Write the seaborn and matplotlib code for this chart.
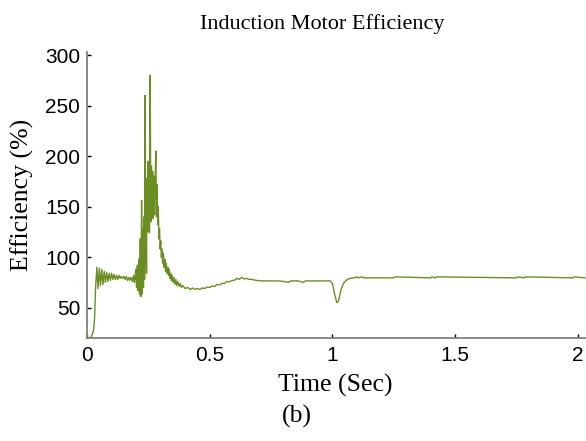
import numpy as np
import pandas as pd
import seaborn as sns
from matplotlib import pyplot as plt

# efficiency trace (time in s, efficiency in %)
time_s = [
    0.000, 0.015, 0.022, 0.027, 0.031, 0.035, 0.038,
    0.040, 0.045, 0.050, 0.055, 0.060, 0.065, 0.070, 0.075, 0.080, 0.085,
    0.090, 0.095, 0.100, 0.105, 0.110, 0.115, 0.120, 0.125, 0.130, 0.135,
    0.140, 0.145, 0.150, 0.155, 0.160, 0.165, 0.170, 0.175, 0.180, 0.185,
    0.190, 0.193,
    0.196, 0.199, 0.202, 0.205, 0.208, 0.211, 0.214, 0.217, 0.2195, 0.2225,
    0.225, 0.2275, 0.230, 0.2325, 0.2345, 0.2365, 0.2385, 0.2405, 0.2425,
    0.2445, 0.2465, 0.2485, 0.2505, 0.2525, 0.2545, 0.2575, 0.260, 0.2625,
    0.265, 0.2675, 0.270, 0.2725, 0.275, 0.2775, 0.2805, 0.283, 0.2855,
    0.288, 0.2905, 0.293, 0.2955, 0.298, 0.3005, 0.303, 0.3055, 0.308,
    0.311, 0.314, 0.317, 0.320, 0.323, 0.326, 0.329, 0.332, 0.335, 0.338,
    0.341, 0.344, 0.347, 0.350, 0.354, 0.358, 0.362, 0.366, 0.370, 0.375,
    0.380, 0.385, 0.390, 0.400, 0.410, 0.420, 0.430, 0.440, 0.450, 0.460,
    0.470, 0.480, 0.490, 0.500, 0.510, 0.520, 0.530, 0.540, 0.550, 0.560,
    0.570, 0.580, 0.590, 0.600, 0.610, 0.620, 0.630, 0.640, 0.650, 0.660,
    0.670, 0.690, 0.710, 0.740, 0.780, 0.800, 0.820, 0.830, 0.860, 0.880,
    0.890, 0.990, 1.000, 1.010, 1.018, 1.025, 1.035, 1.045, 1.055, 1.070,
    1.090, 1.100, 1.105, 1.120, 1.130, 1.250, 1.255, 1.400, 1.405, 1.420,
    1.425, 1.750, 1.755, 1.780, 1.785, 1.980, 1.985, 2.030,
]
efficiency = [
    20, 20, 24, 28, 40, 70, 82,
    90, 69, 89, 72, 88, 73, 86, 75, 85, 76,
    84, 77, 84, 78, 83, 78, 82, 78, 82, 79,
    81, 79, 81, 78, 81, 77, 80, 77, 80, 76,
    82, 75,
    80, 88, 70, 92, 67, 98, 63, 118, 61, 156,
    64, 128, 70, 140, 78, 260, 90, 150, 84,
    178, 125, 195, 128, 188, 124, 280, 135, 190,
    140, 185, 138, 180, 142, 175, 205, 140, 172,
    132, 150, 118, 128, 108, 116, 100, 108, 94,
    104, 90, 98, 86, 94, 84, 90, 82, 88, 79,
    84, 77, 82, 75, 80, 73, 78, 72, 76, 71,
    74, 70, 72, 69, 70, 68, 69.5, 68, 69, 68,
    69.5, 69, 70.5, 70, 71.5, 71, 73, 72.5, 74, 74,
    76, 75.5, 77, 77, 79, 78, 80, 78.5, 79, 78,
    78, 77, 76.5, 76.5, 76.5, 76, 75, 76.5, 76.5, 75,
    76.5, 76.5, 74, 62, 55, 57, 68, 74, 77, 79,
    79.5, 80.5, 79.5, 80.5, 79.5, 79.5, 80.5, 79.5, 80.5, 79.5,
    80.5, 79.5, 80.5, 79.5, 80.5, 79.5, 80.5, 79.5,
]

x_ticks = [0, 0.5, 1, 1.5, 2]
x_tick_labels = ["0", "0.5", "1", "1.5", "2"]
y_ticks = [50, 100, 150, 200, 250, 300]

df = pd.DataFrame({"t": time_s, "eff": efficiency})

sns.set_style("white")
plt.rcParams["font.family"] = ["Liberation Sans", "DejaVu Sans"]
serif = ["Liberation Serif", "DejaVu Serif"]

fig = plt.figure(figsize=(5.86, 4.41), dpi=100)
ax = fig.add_axes([87 / 586, 1 - 338 / 441, 499 / 586, 286 / 441])

sns.lineplot(data=df, x="t", y="eff", ax=ax, color="#6B8E23", linewidth=1.0,
             estimator=None, sort=False)

ax.set_xlim(0, 2.033)
ax.set_ylim(20, 303)
ax.set_xticks(x_ticks)
ax.set_xticklabels(x_tick_labels)
ax.set_yticks(y_ticks)
ax.tick_params(axis="both", direction="in", length=3, width=1, color="black",
               labelsize=15, labelcolor="black", bottom=True, left=True)
ax.tick_params(axis="x", pad=6)
ax.tick_params(axis="y", pad=5)
for side in ["top", "right"]:
    ax.spines[side].set_visible(False)
for side in ["left", "bottom"]:
    ax.spines[side].set_color("#808080")
    ax.spines[side].set_linewidth(1.3)
ax.set_xlabel("")
ax.set_ylabel("")

fig.text(322 / 586, 1 - 24 / 441, "Induction Motor Efficiency", family=serif,
         fontsize=16, ha="center", va="center", color="black")
fig.text(335 / 586, 1 - 385 / 441, "Time (Sec)", family=serif,
         fontsize=18.5, ha="center", va="center", color="black")
fig.text(22 / 586, 1 - 195 / 441, "Efficiency (%)", family=serif,
         fontsize=18.5, ha="center", va="center", rotation=90, color="black")
fig.text(297 / 586, 1 - 416 / 441, "(b)", family=serif,
         fontsize=18.5, ha="center", va="center", color="black")

fig.savefig("out.png", dpi=100)
